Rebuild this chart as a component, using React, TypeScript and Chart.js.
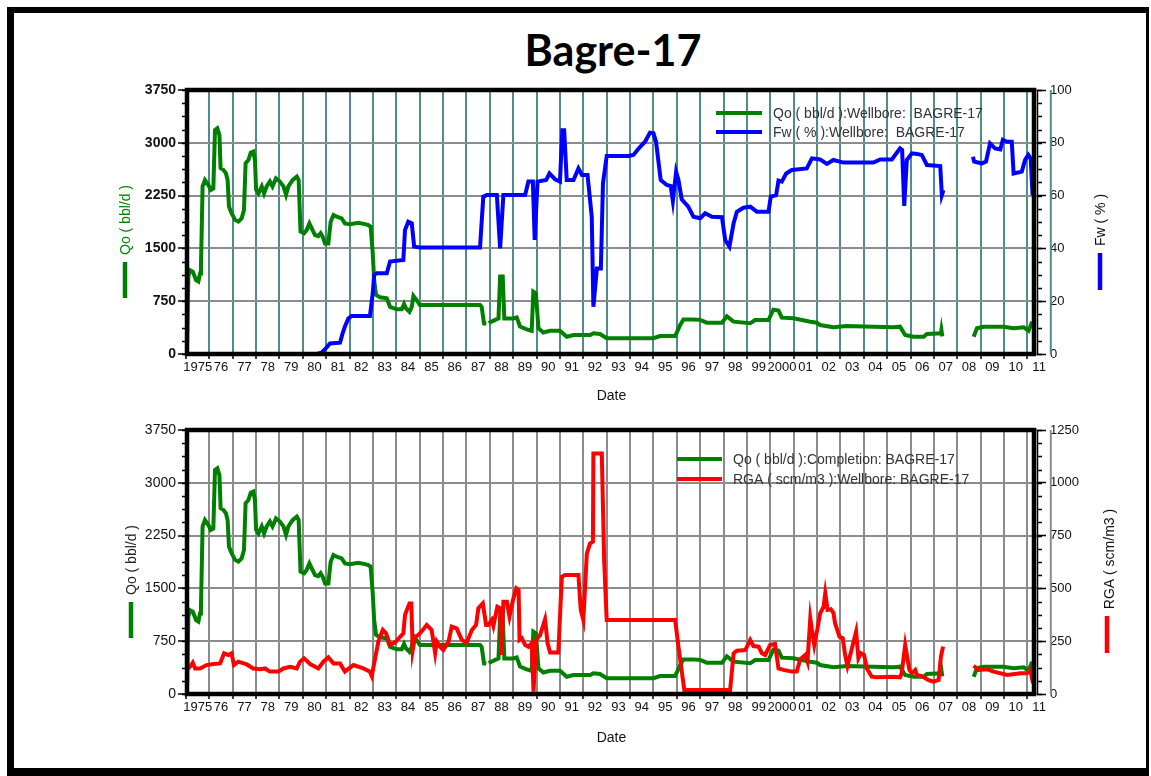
import React, { useEffect, useRef } from "react";
import { Chart, registerables } from "chart.js";

Chart.register(...registerables);

const FONT = "'Liberation Sans', Arial, Helvetica, sans-serif";
const GREEN = "#008000";
const BLUE = "#0000ff";
const RED = "#ff0000";

// ---------------- tick labels ----------------
const yearLabels = [
  "1975", "76", "77", "78", "79", "80", "81", "82", "83", "84", "85", "86", "87", "88", "89",
  "90", "91", "92", "93", "94", "95", "96", "97", "98", "99", "2000", "01", "02", "03", "04",
  "05", "06", "07", "08", "09", "10", "11",
];
const firstYear = 1975;
const tickYears = yearLabels.map((_, i) => firstYear + i);

// ---------------- series: Qo (bbl/d) ----------------
const qoYears = [
  1975.04, 1975.1, 1975.17, 1975.29, 1975.43, 1975.53, 1975.6, 1975.64, 1975.71, 1975.81, 1975.96,
  1976.06, 1976.17, 1976.24, 1976.34, 1976.43, 1976.48, 1976.6, 1976.71, 1976.78, 1976.84, 1976.95,
  1977.1, 1977.24, 1977.38, 1977.48, 1977.55, 1977.67, 1977.77, 1977.88, 1977.95,
  1978.0, 1978.1, 1978.24, 1978.34, 1978.45, 1978.59, 1978.7, 1978.85,
  1979.02, 1979.17, 1979.28, 1979.38, 1979.56, 1979.74, 1979.82, 1979.9,
  1980.05, 1980.16, 1980.28, 1980.38, 1980.52, 1980.66, 1980.76, 1980.85, 1980.95,
  1981.09, 1981.19, 1981.31, 1981.45, 1981.66, 1981.8,
  1982.02, 1982.37, 1982.66, 1982.8, 1982.9, 1982.99,
  1983.05, 1983.13, 1983.3, 1983.59, 1983.73,
  1984.02, 1984.23, 1984.33, 1984.41, 1984.56, 1984.66, 1984.73, 1984.87,
  1985.01, 1987.58, 1987.65, 1987.75, 1987.85, 1987.9, 1987.95,
  1988.23, 1988.37, 1988.44, 1988.55, 1988.62,
  1989.01, 1989.15, 1989.29, 1989.58, 1989.79, 1989.86, 1989.97,
  1990.08, 1990.29, 1990.58, 1991.0, 1991.29, 1991.58, 1992.29, 1992.43, 1992.71,
  1993.0, 1995.0, 1995.28, 1995.93, 1996.14, 1996.28, 1996.71,
  1997.0, 1997.28, 1997.93, 1998.14, 1998.43, 1999.14, 1999.35, 1999.92,
  2000.13, 2000.35, 2000.49, 2000.99, 2001.71, 2001.99, 2002.13, 2002.7, 2003.27,
  2004.41, 2005.27, 2005.55, 2005.77, 2006.13, 2006.56, 2006.7, 2007.3, 2007.32, 2007.36,
  2008.0, 2008.7, 2008.84, 2009.13, 2009.98, 2010.41, 2010.84, 2011.05, 2011.2,
];
const qoValues: (number | null)[] = [
  0, 1100, 1190, 1170, 1050, 1030, 1145, 1240, 2380, 2470, 2400,
  2330, 2350, 3180, 3205, 3110, 2640, 2615, 2565, 2470, 2090, 2000,
  1905, 1880, 1925, 2045, 2710, 2755, 2860, 2875, 2755,
  2330, 2280, 2380, 2280, 2380, 2450, 2380, 2495,
  2450, 2380, 2260, 2380, 2470, 2520, 2470, 1740,
  1715, 1760, 1855, 1785, 1690, 1675, 1715, 1665, 1570,
  1570, 1880, 1975, 1950, 1925, 1855,
  1845, 1865, 1845, 1830, 1810, 1430,
  1050, 840, 805, 790, 670,
  635, 635, 710, 650, 600, 670, 825, 765,
  695, 695, 670, 435, 430, null, 440,
  485, 505, 1100, 1100, 505,
  505, 520, 390, 350, 330, 885, 860,
  365, 305, 330, 330, 245, 270, 270, 295, 285,
  225, 225, 255, 255, 410, 490, 490,
  485, 445, 445, 535, 460, 436, 483, 483,
  630, 616, 516, 507, 459, 445, 412, 379, 398,
  388, 379, 388, 270, 246, 246, 284, 294, 340, 250,
  null, 246, 365, 388, 388, 365, 379, 331, 459,
];

// ---------------- series: Fw (%) ----------------
const fwYears = [
  1980.6, 1980.8, 1980.95, 1981.16, 1981.59, 1981.7, 1981.8, 1981.95, 1982.09, 1982.87, 1982.99,
  1983.05, 1983.16, 1983.59, 1983.73, 1984.3, 1984.37, 1984.51, 1984.66, 1984.76, 1985.01,
  1987.58, 1987.72, 1987.87, 1988.3, 1988.44, 1988.58, 1989.51, 1989.65, 1989.84, 1989.92,
  1990.04, 1990.41, 1990.55, 1990.79, 1991.0, 1991.1, 1991.18, 1991.29, 1991.58, 1991.79, 1991.94,
  1992.18, 1992.36, 1992.43, 1992.58, 1992.75, 1992.84, 1993.0, 1993.93, 1994.14, 1994.43, 1994.64,
  1994.85, 1995.0, 1995.11, 1995.31, 1995.57, 1995.74, 1995.83, 1995.97, 1996.07, 1996.21, 1996.49,
  1996.71, 1997.0, 1997.21, 1997.5, 1997.93, 1998.07, 1998.25, 1998.43, 1998.57, 1998.85, 1999.14,
  1999.42, 1999.92, 2000.02, 2000.25, 2000.35, 2000.49, 2000.68, 2000.92, 2001.56, 2001.78, 2002.13,
  2002.42, 2002.7, 2003.13, 2004.41, 2004.7, 2005.2, 2005.55, 2005.64, 2005.73, 2005.84, 2006.06,
  2006.27, 2006.48, 2006.7, 2007.27, 2007.34, 2007.41,
  2008.0, 2008.67, 2008.72, 2009.05, 2009.23, 2009.4, 2009.62, 2009.84, 2009.95, 2010.12, 2010.33,
  2010.41, 2010.76, 2010.9, 2011.04, 2011.14, 2011.22,
];
const fwValues: (number | null)[] = [
  0, 0.5, 1.8, 4, 4.3, 7.8, 10.4, 13.5, 14.4, 14.4, 23,
  30, 30.6, 30.6, 35, 35.6, 47, 50.1, 49.5, 40.7, 40.3,
  40.3, 59.6, 60.2, 60.2, 40, 60.2, 60.2, 65.3, 65.3, 43.2,
  65.3, 65.9, 68.4, 66.2, 65.3, 84.8, 84.8, 65.9, 65.9, 70.3, 67.8,
  67.8, 52, 17.9, 32.4, 32.4, 64.6, 75, 75, 75.4, 78.5, 80.4,
  83.8, 83.6, 80.4, 65.9, 64, 63.6, 58, 69, 65.9, 58.6, 55.8,
  52, 51.4, 53.3, 52, 51.8, 43.2, 40.7, 49.5, 53.9, 55.4, 55.8,
  53.9, 53.9, 59.6, 60.2, 65.7, 65.3, 68.4, 69.7, 70.3, 74.1, 73.7,
  72, 73.5, 72.5, 72.5, 73.7, 73.7, 77.9, 77.3, 56.1, 73.5, 76,
  75.8, 75.4, 71.6, 71.2, 60.2, 62.1,
  null, 74.7, 72.9, 72.2, 72.9, 79.8, 77.9, 77.5, 81.1, 80.4, 80.4,
  68.4, 69.1, 73.5, 75.4, 74.1, 60.2,
];

// ---------------- series: RGA (scm/m3) ----------------
const rgaYears = [
  1975.06, 1975.17, 1975.29, 1975.39, 1975.6, 1975.88, 1976.17, 1976.46, 1976.63, 1976.81, 1976.95,
  1977.05, 1977.24, 1977.6, 1977.88, 1978.17, 1978.38, 1978.59, 1978.95, 1979.17, 1979.45, 1979.74,
  1979.88, 1980.05, 1980.31, 1980.66, 1980.88, 1981.09, 1981.31, 1981.59, 1981.8, 1982.16, 1982.59,
  1982.87, 1982.95, 1983.05, 1983.23, 1983.42, 1983.56, 1983.73, 1983.94, 1984.16, 1984.3, 1984.37,
  1984.56, 1984.64, 1984.7, 1984.8, 1984.94, 1985.13, 1985.3, 1985.51, 1985.66, 1985.73, 1985.87,
  1986.01, 1986.23, 1986.37, 1986.58, 1986.8, 1987.01, 1987.23, 1987.41, 1987.51, 1987.7, 1987.84,
  1987.94, 1988.08, 1988.15, 1988.32, 1988.44, 1988.49, 1988.58, 1988.73, 1988.84, 1988.99, 1989.13,
  1989.23, 1989.27, 1989.37, 1989.51, 1989.65, 1989.79, 1989.87, 1989.98, 1990.15, 1990.36, 1990.47,
  1990.58, 1990.93, 1991.08, 1991.22, 1991.79, 1991.89, 1992.0, 1992.15, 1992.29, 1992.41, 1992.43,
  1992.79, 1992.89, 1993.0, 1995.93, 1996.07, 1996.32, 1998.28, 1998.43, 1998.57, 1998.93, 1999.14,
  1999.28, 1999.5, 1999.64, 1999.78, 1999.99, 2000.2, 2000.35, 2000.56, 2000.92, 2001.13, 2001.28,
  2001.49, 2001.59, 2001.71, 2001.78, 2001.88, 2002.02, 2002.13, 2002.28, 2002.35, 2002.45, 2002.59,
  2002.7, 2002.77, 2002.96, 2003.1, 2003.2, 2003.3, 2003.49, 2003.67, 2003.77, 2003.87, 2004.01,
  2004.13, 2004.34, 2004.55, 2005.27, 2005.55, 2005.62, 2005.77, 2005.95, 2006.06, 2006.2, 2006.27,
  2006.48, 2006.77, 2006.98, 2007.2, 2007.3, 2007.39,
  2008.0, 2008.7, 2008.92, 2009.28, 2009.56, 2010.13, 2010.7, 2010.98, 2011.12, 2011.24,
];
const rgaValues: (number | null)[] = [
  117, 129, 148, 121, 121, 137, 142, 145, 193, 185, 193,
  137, 153, 140, 121, 117, 121, 106, 106, 121, 129, 121,
  153, 169, 142, 121, 153, 174, 145, 145, 106, 137, 121,
  106, 85, 145, 248, 303, 287, 232, 243, 271, 287, 374,
  429, 429, 208, 271, 279, 303, 327, 303, 193, 248, 224,
  208, 248, 319, 311, 256, 243, 303, 327, 406, 429, 327,
  327, 350, 322, 413, 406, 185, 437, 437, 366, 445, 500,
  492, 256, 264, 232, 224, 240, 11, 256, 279, 353, 240,
  196, 196, 555, 563, 563, 398, 350, 666, 713, 721, 1139,
  1139, 634, 350, 350, 224, 19, 19, 193, 205, 208, 256,
  227, 224, 193, 185, 232, 237, 121, 114, 106, 106, 164,
  185, 153, 358, 303, 232, 311, 382, 413, 477, 398, 401,
  385, 335, 271, 264, 185, 133, 216, 295, 169, 193, 185,
  121, 82, 79, 82, 79, 98, 232, 114, 98, 114, 90,
  85, 66, 58, 66, 177, 224,
  null, 134, 114, 117, 106, 90, 98, 98, 114, 50,
];

const pts = (xs: number[], ys: (number | null)[]) => xs.map((x, i) => ({ x, y: ys[i] }));

type TitleSpec = { text: string; color: string; cx: number; cy: number; barColor: string; bx: number; by1: number; by2: number };
type DecorSpec = {
  legendLineX1: number;
  legendLineX2: number;
  legendTextX: number;
  legendY: number;
  legendRow: number;
  titles: TitleSpec[];
  minor: { id: string; step: number; side: "left" | "right"; len: number }[];
  gridColor: string;
};

function makeDecor(spec: DecorSpec) {
  return {
    id: "decor",
    beforeDatasetsDraw(chart: any) {
      // the extra year line drawn just right of the plot (2012)
      const ctx = chart.ctx;
      const xs = chart.scales.x;
      const ca = chart.chartArea;
      const px = xs.getPixelForValue(2012);
      ctx.save();
      ctx.strokeStyle = spec.gridColor;
      ctx.lineWidth = 2;
      ctx.beginPath();
      ctx.moveTo(px, ca.top);
      ctx.lineTo(px, ca.bottom);
      ctx.stroke();
      ctx.restore();
    },
    afterDraw(chart: any) {
      const ctx = chart.ctx;
      const ca = chart.chartArea;
      ctx.save();
      // minor ticks
      ctx.strokeStyle = "#000";
      ctx.lineWidth = 1.5;
      for (const m of spec.minor) {
        const sc = chart.scales[m.id];
        for (let v = sc.min; v <= sc.max + 1e-6; v += m.step) {
          const y = Math.round(sc.getPixelForValue(v)) + 0.5;
          ctx.beginPath();
          if (m.side === "left") {
            ctx.moveTo(ca.left - m.len, y);
            ctx.lineTo(ca.left, y);
          } else {
            ctx.moveTo(ca.right, y);
            ctx.lineTo(ca.right + m.len, y);
          }
          ctx.stroke();
        }
      }
      // right axis line
      ctx.beginPath();
      ctx.moveTo(ca.right + 0.5, ca.top);
      ctx.lineTo(ca.right + 0.5, ca.bottom);
      ctx.stroke();
      // thick plot frame
      ctx.lineWidth = 4.5;
      ctx.strokeRect(ca.left + 1, ca.top, ca.right - 3 - (ca.left + 1), ca.bottom - ca.top);
      // axis titles with their colour bars
      ctx.font = `14px ${FONT}`;
      ctx.textAlign = "center";
      ctx.textBaseline = "middle";
      for (const t of spec.titles) {
        ctx.save();
        ctx.translate(t.cx, t.cy);
        ctx.rotate(-Math.PI / 2);
        ctx.fillStyle = t.color;
        ctx.fillText(t.text, 0, 0);
        ctx.restore();
        ctx.fillStyle = t.barColor;
        ctx.fillRect(t.bx - 2.25, t.by1, 4.5, t.by2 - t.by1);
      }
      // legend
      const ds = chart.data.datasets;
      ctx.textAlign = "left";
      ds.forEach((d: any, i: number) => {
        const y = spec.legendY + i * spec.legendRow;
        ctx.strokeStyle = d.borderColor;
        ctx.lineWidth = 4;
        ctx.beginPath();
        ctx.moveTo(spec.legendLineX1, y);
        ctx.lineTo(spec.legendLineX2, y);
        ctx.stroke();
        ctx.fillStyle = "#333";
        ctx.fillText(d.label, spec.legendTextX, y + 1);
      });
      ctx.restore();
    },
  };
}

function xAxis(gridColor: string, height: number, titlePadBottom: number) {
  return {
    type: "linear",
    position: "bottom",
    min: 1975,
    max: 2011.41,
    afterBuildTicks: (s: any) => {
      s.ticks = tickYears.map((v) => ({ value: v }));
    },
    afterFit: (s: any) => {
      s.height = height;
    },
    border: { display: false },
    grid: { color: gridColor, lineWidth: 2, tickColor: "#000", tickLength: 5, tickWidth: 1.5 },
    ticks: {
      autoSkip: false,
      maxRotation: 0,
      minRotation: 0,
      padding: 1,
      labelOffset: 11.7,
      color: "#111",
      font: { family: FONT, size: 13 },
      callback: (_v: any, i: number) => yearLabels[i],
    },
    title: {
      display: true,
      text: "Date",
      color: "#111",
      font: { family: FONT, size: 14 },
      padding: { top: 0, bottom: titlePadBottom },
    },
  };
}

const plain = (v: any) => String(v);

function leftAxis(bold: boolean) {
  return {
    type: "linear",
    position: "left",
    min: 0,
    max: 3750,
    afterFit: (s: any) => {
      s.width = 68;
    },
    border: { display: false },
    grid: { color: "#8c8c8c", lineWidth: 2, tickColor: "#000", tickLength: 8, tickWidth: 1.5 },
    ticks: {
      stepSize: 750,
      padding: 2,
      color: "#111",
      font: { family: FONT, size: 14, weight: bold ? "bold" : "normal" },
      callback: plain,
    },
  };
}

function rightAxis(max: number, step: number) {
  return {
    type: "linear",
    position: "right",
    min: 0,
    max,
    afterFit: (s: any) => {
      s.width = 60;
    },
    border: { display: false },
    grid: { drawOnChartArea: false, color: "#000", tickColor: "#000", tickLength: 9, tickWidth: 1.5 },
    ticks: {
      stepSize: step,
      padding: 4,
      color: "#111",
      font: { family: FONT, size: 13 },
      callback: plain,
    },
  };
}

const lineDs = (label: string, color: string, data: any, axis: string, order: number) => ({
  label,
  data,
  borderColor: color,
  backgroundColor: color,
  borderWidth: 4,
  pointRadius: 0,
  tension: 0,
  spanGaps: false,
  fill: false,
  yAxisID: axis,
  order,
});

function topConfig(): any {
  return {
    type: "line",
    data: {
      datasets: [
        lineDs("Qo ( bbl/d ):Wellbore:  BAGRE-17", GREEN, pts(qoYears, qoValues), "y", 1),
        lineDs("Fw ( % ):Wellbore:  BAGRE-17", BLUE, pts(fwYears, fwValues), "y1", 0),
      ],
    },
    options: {
      responsive: false,
      animation: false,
      events: [],
      layout: { padding: { left: 118, right: 54, top: 30, bottom: 0 } },
      plugins: { legend: { display: false }, tooltip: { enabled: false }, title: { display: false } },
      scales: {
        x: xAxis("#4f8d8d", 56, 5),
        y: leftAxis(true),
        y1: rightAxis(100, 20),
      },
    },
    plugins: [
      makeDecor({
        legendLineX1: 716,
        legendLineX2: 762,
        legendTextX: 773,
        legendY: 53,
        legendRow: 19,
        gridColor: "#4f8d8d",
        titles: [
          { text: "Qo ( bbl/d )", color: GREEN, cx: 126, cy: 160, barColor: GREEN, bx: 125, by1: 202, by2: 238 },
          { text: "Fw ( % )", color: "#111", cx: 1101, cy: 160, barColor: BLUE, bx: 1100, by1: 193, by2: 230 },
        ],
        minor: [
          { id: "y", step: 187.5, side: "left", len: 4 },
          { id: "y1", step: 5, side: "right", len: 5 },
        ],
      }),
    ],
  };
}

function bottomConfig(): any {
  return {
    type: "line",
    data: {
      datasets: [
        lineDs("Qo ( bbl/d ):Completion: BAGRE-17", GREEN, pts(qoYears, qoValues), "y", 1),
        lineDs("RGA ( scm/m3 ):Wellbore: BAGRE-17", RED, pts(rgaYears, rgaValues), "y1", 0),
      ],
    },
    options: {
      responsive: false,
      animation: false,
      events: [],
      layout: { padding: { left: 118, right: 54, top: 20, bottom: 26 } },
      plugins: { legend: { display: false }, tooltip: { enabled: false }, title: { display: false } },
      scales: {
        x: xAxis("#8c8c8c", 56, 3),
        y: leftAxis(false),
        y1: rightAxis(1250, 250),
      },
    },
    plugins: [
      makeDecor({
        legendLineX1: 677,
        legendLineX2: 722,
        legendTextX: 733,
        legendY: 49,
        legendRow: 20,
        gridColor: "#8c8c8c",
        titles: [
          { text: "Qo ( bbl/d )", color: "#222", cx: 132, cy: 150, barColor: GREEN, bx: 131, by1: 192, by2: 228 },
          { text: "RGA ( scm/m3 )", color: "#111", cx: 1110, cy: 149, barColor: RED, bx: 1107, by1: 206, by2: 243 },
        ],
        minor: [
          { id: "y", step: 187.5, side: "left", len: 4 },
          { id: "y1", step: 62.5, side: "right", len: 5 },
        ],
      }),
    ],
  };
}

export default function App() {
  const c1 = useRef<HTMLCanvasElement | null>(null);
  const c2 = useRef<HTMLCanvasElement | null>(null);

  useEffect(() => {
    const ch1 = new Chart(c1.current as HTMLCanvasElement, topConfig());
    const ch2 = new Chart(c2.current as HTMLCanvasElement, bottomConfig());
    return () => {
      ch1.destroy();
      ch2.destroy();
    };
  }, []);

  return (
    <div style={{ position: "absolute", left: 0, top: 0, width: 1151, height: 776, background: "#fff", overflow: "hidden" }}>
      <div
        style={{
          position: "absolute",
          left: 7,
          top: 7,
          width: 1142,
          height: 769,
          boxSizing: "border-box",
          borderStyle: "solid",
          borderColor: "#000",
          borderWidth: "6px 3px 8px 7px",
        }}
      />
      <div
        style={{
          position: "absolute",
          left: 413,
          top: 28,
          width: 400,
          textAlign: "center",
          fontFamily: "Lato, 'Open Sans', sans-serif",
          fontWeight: 700,
          fontSize: 43,
          lineHeight: "43px",
          color: "#000",
        }}
      >
        Bagre-17
      </div>
      <canvas ref={c1} width={1151} height={350} style={{ position: "absolute", left: 0, top: 60, width: 1151, height: 350 }} />
      <canvas ref={c2} width={1151} height={366} style={{ position: "absolute", left: 0, top: 410, width: 1151, height: 366 }} />
    </div>
  );
}
